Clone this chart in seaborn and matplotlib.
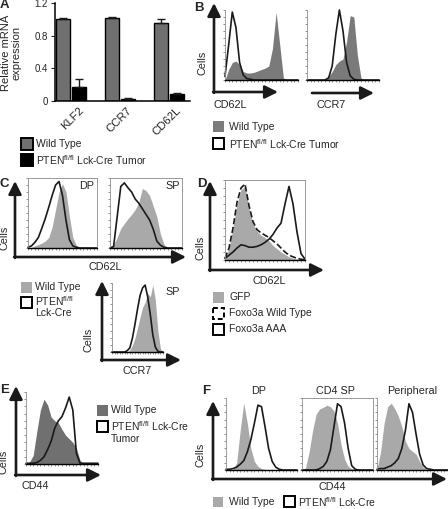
import numpy as np
import pandas as pd
import matplotlib
matplotlib.use("Agg")
import matplotlib.pyplot as plt
import seaborn as sns
from matplotlib.patches import Rectangle
from matplotlib.transforms import ScaledTranslation

sns.set_theme(style="white")
plt.rcParams['font.family'] = ['Liberation Sans', 'DejaVu Sans']
plt.rcParams['mathtext.fontset'] = 'custom'
plt.rcParams['mathtext.rm'] = 'Liberation Sans'

# --- panel A: qPCR ---
genes = ["KLF2", "CCR7", "CD62L"]
wt_expr = [1.01, 1.02, 0.95]
wt_err = [0.01, 0.01, 0.05]
pten_expr = [0.17, 0.03, 0.09]
pten_err = [0.10, 0.005, 0.005]

# --- histograms, heights sampled every 0.05 of the axis width ---
grid = np.linspace(0, 1, 21)
b_cd62l_wt = [0, .15, .25, .27, .22, .12, .10, .10, .11, .13, .15, .17, .20, .45, .97, .50, .03, 0, 0, 0, 0]
b_cd62l_pten = [.05, .50, .97, .75, .25, .07, .02, .01, 0, 0, 0, 0, 0, 0, 0, 0, 0, 0, 0, 0, 0]
b_ccr7_wt = [0, 0, 0, 0, 0, .02, .05, .12, .22, .27, .30, .55, .92, .90, .35, .03, 0, 0, 0, 0, 0]
b_ccr7_pten = [0, 0, 0, 0, 0, 0, .03, .20, .65, 1.0, .70, .25, .06, .01, 0, 0, 0, 0, 0, 0, 0]
c_dp_wt = [0, .01, .03, .05, .07, .10, .15, .30, .55, .80, .92, .80, .45, .15, .04, .01, 0, 0, 0, 0, 0]
c_dp_pten = [.01, .03, .08, .15, .28, .42, .58, .75, .90, .95, .75, .40, .12, .03, .01, 0, 0, 0, 0, 0, 0]
c_sp_wt = [0, .05, .15, .28, .35, .42, .48, .55, .65, .85, .82, .75, .60, .45, .20, .05, .01, 0, 0, 0, 0]
c_sp_pten = [0, .02, .45, .88, .93, .86, .80, .70, .64, .56, .48, .40, .27, .10, .04, .01, 0, 0, 0, 0, 0]
c_ccr7_wt = [0, 0, 0, 0, 0, 0, 0, .03, .10, .20, .35, .50, .65, .72, .85, .80, .97, .75, .30, .05, 0]
c_ccr7_pten = [0, 0, 0, 0, 0, 0, .02, .06, .20, .40, .62, .82, .93, .97, .80, .55, .25, .07, .01, 0, 0]
d_gfp = [0, .15, .40, .70, .88, .92, .65, .45, .36, .31, .28, .24, .18, .14, .10, .07, .04, .02, .01, 0, 0]
d_foxo_wt = [.02, .15, .40, .72, .90, .95, .68, .48, .38, .34, .31, .28, .24, .20, .15, .10, .06, .04, .02, .01, 0]
d_foxo_aaa = [.02, .06, .10, .15, .19, .18, .16, .16, .17, .19, .22, .26, .32, .40, .46, .70, .92, .70, .35, .08, .01]
e_wt = [0, .03, .12, .45, .75, .90, .82, .65, .60, .57, .48, .40, .35, .30, .22, .05, .01, 0, 0, 0, 0]
e_pten = [.01, .01, .01, .02, .05, .10, .20, .32, .50, .60, .66, .78, .93, .75, .15, .01, .01, .01, .01, .01, .01]
f_dp_wt = [0, 0, .01, .10, .55, .93, .65, .30, .12, .05, .02, .01, 0, 0, 0, 0, 0, 0, 0, 0, 0]
f_dp_pten = [.01, .01, .02, .04, .08, .13, .25, .42, .65, .90, .88, .60, .30, .12, .04, .01, 0, 0, 0, 0, 0]
f_sp_wt = [0, .03, .25, .55, .78, .85, .87, .90, .88, .82, .65, .35, .15, .05, .02, .01, 0, 0, 0, 0, 0]
f_sp_pten = [0, 0, 0, 0, 0, .02, .05, .12, .28, .60, .92, .88, .65, .30, .06, .01, 0, 0, 0, 0, 0]
f_per_wt = [.02, .25, .65, .88, .93, .85, .75, .60, .40, .30, .26, .22, .12, .04, .01, 0, 0, 0, 0, 0, 0]
f_per_pten = [.01, .02, .02, .04, .06, .10, .16, .30, .55, .92, .80, .50, .22, .07, .02, .01, 0, 0, 0, 0, 0]

DARK = "#707070"
LIGHT = "#a9a9a9"
PTEN = r"PTEN$^{\rm fl/fl}$"

W, H = 448, 509
fig = plt.figure(figsize=(W / 100, H / 100), dpi=100)

# overlay in pixel coords for arrows, labels, legends
over = fig.add_axes([0, 0, 1, 1])
over.set_xlim(0, W)
over.set_ylim(H, 0)
over.axis("off")


def px_axes(l, t, r, b):
    return fig.add_axes([l / W, 1 - b / H, (r - l) / W, (b - t) / H])


def txt(x, y, s, size=7.8, **kw):
    kw.setdefault("va", "center")
    over.text(x, y, s, fontsize=size, **kw)


def letter(x, y, s):
    over.text(x, y, s, fontsize=9.5, fontweight="bold", va="center", ha="left")


def sq(x, y, w, fc, ec="none", ls="-"):
    over.add_patch(Rectangle((x, y), w, w, fc=fc, ec=ec, lw=1.4, ls=ls))


def arrow(x0, y0, x1, y1):
    over.annotate("", xy=(x1, y1), xytext=(x0, y0),
                  arrowprops=dict(arrowstyle="-|>,head_length=0.6,head_width=0.3",
                                  lw=1.9, color="k", mutation_scale=13,
                                  shrinkA=0, shrinkB=0))


def hist(l, t, r, b, fills=(), lines=(), box=False):
    ax = px_axes(l, t, r, b)
    ax.patch.set_visible(False)
    for vals, col in fills:
        ax.fill_between(grid, vals, color=col, lw=0)
    for vals, ls in lines:
        sns.lineplot(x=grid, y=vals, ax=ax, color="k", lw=1.2, linestyle=ls,
                     estimator=None, sort=False, clip_on=False)
    ax.set_xlim(0, 1)
    ax.set_ylim(0, 1)
    for side in ["top", "right"]:
        ax.spines[side].set_visible(box)
        ax.spines[side].set(color="0.6", lw=0.7)
    ax.spines["left"].set(color="0.55", lw=0.6)
    ax.spines["bottom"].set(color="black", lw=1.0)
    ax.set_xticks(np.linspace(0, 1, 21))
    ax.set_yticks(np.linspace(0, 1, 11))
    ax.tick_params(length=1.5, width=0.5, color="0.4", direction="out",
                   bottom=True, left=True, labelbottom=False, labelleft=False)
    return ax


# ---------------- A ----------------
ax = px_axes(55, 3, 190, 101)
df = pd.DataFrame({"gene": genes * 2,
                   "group": ["Wild Type"] * 3 + ["PTEN"] * 3,
                   "value": wt_expr + pten_expr})
sns.barplot(df, x="gene", y="value", hue="group", palette=[DARK, "black"],
            width=0.66, gap=0.15, edgecolor="black", linewidth=1,
            errorbar=None, legend=False, ax=ax)
for cont, errs in zip(ax.containers, [wt_err, pten_err]):
    for bar, e in zip(cont, errs):
        ax.errorbar(bar.get_x() + bar.get_width() / 2, bar.get_height(),
                    yerr=[[0], [e]], color="k", capsize=3, lw=1, capthick=1)
ax.set_xlim(-0.33, 2.43)
ax.set_ylim(0, 1.2)
ax.set_yticks([0, 0.4, 0.8, 1.2])
ax.set_yticklabels(["0", "0.4", "0.8", "1.2"])
ax.set_xlabel("")
ax.set_ylabel("")
ax.patch.set_visible(False)
sns.despine(ax=ax)
for side in ["left", "bottom"]:
    ax.spines[side].set(color="black", lw=1.1)
ax.tick_params(axis="y", left=True, length=3, width=0.8, labelsize=7, pad=2)
ax.tick_params(axis="x", length=0, labelsize=8.2, pad=1)
for lab in ax.get_xticklabels():
    lab.set_rotation(45)
    lab.set_ha("right")
    lab.set_rotation_mode("anchor")
    lab.set_transform(lab.get_transform() + ScaledTranslation(0.07, -0.03, fig.dpi_scale_trans))
letter(0, 5, "A")
txt(11, 53, "Relative mRNA\nexpression", rotation=90, ha="center", size=8.0,
    linespacing=1.0)
sq(21, 138, 12, DARK, "black")
sq(21, 154, 12, "black", "black")
txt(36, 144, "Wild Type", size=7.5)
txt(36, 160, PTEN + " Lck-Cre Tumor", size=7.5)

# ---------------- B ----------------
letter(194, 8, "B")
hist(225, 10, 298, 80, fills=[(b_cd62l_wt, "#7a7a7a")], lines=[(b_cd62l_pten, "-")])
hist(307, 10, 379, 80, fills=[(b_ccr7_wt, "#7a7a7a")], lines=[(b_ccr7_pten, "-")])
arrow(214, 92.9, 214, 3)
arrow(213.1, 92, 278, 92)
arrow(312, 93, 374, 93)
txt(203, 63, "Cells", rotation=90, ha="center")
txt(230, 105, "CD62L", ha="center")
txt(331, 105, "CCR7", ha="center")
sq(213, 121, 11, "#7a7a7a")
sq(213, 138, 11, "white", "black")
txt(229, 127, "Wild Type", size=7.5)
txt(229, 144, PTEN + " Lck-Cre Tumor", size=7.5)

# ---------------- C ----------------
letter(0, 184, "C")
hist(28, 178, 97, 248, fills=[(c_dp_wt, LIGHT)], lines=[(c_dp_pten, "-")], box=True)
hist(110, 178, 182, 248, fills=[(c_sp_wt, LIGHT)], lines=[(c_sp_pten, "-")], box=True)
arrow(15, 257.9, 15, 181)
arrow(14.1, 257, 186, 257)
txt(5, 238, "Cells", rotation=90, ha="center")
txt(105, 267, "CD62L", ha="center")
txt(94, 186, "DP", ha="right")
txt(180, 186, "SP", ha="right")
sq(21, 282, 11, LIGHT)
sq(21, 297, 11, "white", "black")
txt(35, 287, "Wild Type", size=7.5)
txt(35, 301, PTEN, size=7.5)
txt(35, 313, "Lck-Cre", size=7.5)

hist(112, 283, 163, 352, fills=[(c_ccr7_wt, LIGHT)], lines=[(c_ccr7_pten, "-")])
arrow(102, 360.9, 102, 281)
arrow(101.1, 360, 181, 360)
txt(89, 340, "Cells", rotation=90, ha="center")
txt(137, 371, "CCR7", ha="center")
txt(180, 292, "SP", ha="right")

# ---------------- D ----------------
letter(197, 184, "D")
hist(225, 180, 305, 260, fills=[(d_gfp, LIGHT)],
     lines=[(d_foxo_wt, "--"), (d_foxo_aaa, "-")], box=True)
arrow(210, 270.9, 210, 181)
arrow(209.1, 270, 324, 270)
txt(200, 248, "Cells", rotation=90, ha="center")
txt(269, 281, "CD62L", ha="center")
sq(213, 292, 11, LIGHT)
sq(213, 308, 11, "white", "black", ls=(0, (2.5, 1.5)))
sq(213, 324, 11, "white", "black")
txt(229, 297, "GFP", size=7.5)
txt(229, 313, "Foxo3a Wild Type", size=7.5)
txt(229, 329, "Foxo3a AAA", size=7.5)

# ---------------- E ----------------
letter(0, 390, "E")
hist(26, 392, 98, 464, fills=[(e_wt, DARK)], lines=[(e_pten, "-")])
arrow(16, 475.9, 16, 386)
arrow(15.1, 475, 101, 475)
txt(4, 462, "Cells", rotation=90, ha="center")
txt(22, 486, "CD44", ha="left")
sq(97, 405, 11, DARK)
sq(97, 421, 11, "white", "black")
txt(111, 410, "Wild Type", size=7.5)
txt(111, 426, PTEN + " Lck-Cre", size=7.5)
txt(111, 439, "Tumor", size=7.5)

# ---------------- F ----------------
letter(202, 391, "F")
hist(226, 398, 297, 470, fills=[(f_dp_wt, LIGHT)], lines=[(f_dp_pten, "-")])
hist(302, 398, 373, 470, fills=[(f_sp_wt, LIGHT)], lines=[(f_sp_pten, "-")], box=True)
hist(377, 398, 448, 470, fills=[(f_per_wt, LIGHT)], lines=[(f_per_pten, "-")])
arrow(213, 479.9, 213, 401)
arrow(212.1, 479, 447, 479)
txt(200, 455, "Cells", rotation=90, ha="center")
txt(332, 487, "CD44", ha="center")
txt(259, 391, "DP", ha="center")
txt(335, 391, "CD4 SP", ha="center")
txt(412, 391, "Peripheral", ha="center")
sq(213, 497, 10, LIGHT)
sq(284, 496, 11, "white", "black")
txt(229, 502, "Wild Type", size=7.5)
txt(298, 502, PTEN + " Lck-Cre", size=7.5)

fig.savefig("out.png", dpi=100)
